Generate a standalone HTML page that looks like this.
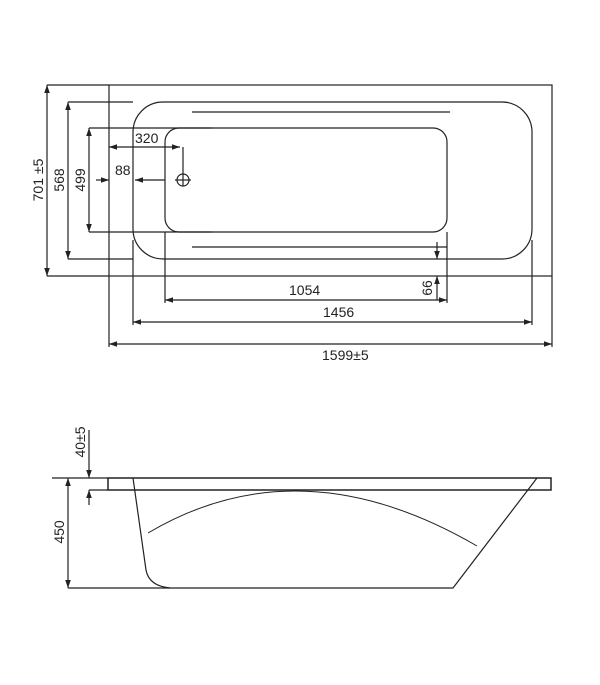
<!DOCTYPE html>
<html><head><meta charset="utf-8"><style>
html,body{margin:0;padding:0;background:#fff}
svg{display:block}
text{font-family:"Liberation Sans",sans-serif;font-size:14px;fill:#222}
</style></head><body>
<svg width="600" height="685" viewBox="0 0 600 685" xmlns="http://www.w3.org/2000/svg">
<defs>
<marker id="a" viewBox="0 0 10 10" refX="10" refY="5" markerWidth="8" markerHeight="8" orient="auto-start-reverse" markerUnits="userSpaceOnUse"><path d="M0,1.5 L10,5 L0,8.5 Z" fill="#222"/></marker>
</defs>
<g stroke="#222" stroke-width="1.2" fill="none">
<rect x="109" y="85" width="443" height="191"/>
<line x1="47" y1="85" x2="109" y2="85"/>
<line x1="47" y1="276" x2="109" y2="276"/>
<rect x="133" y="102" width="399" height="157" rx="30"/>
<line x1="68" y1="102" x2="133" y2="102"/>
<line x1="68" y1="259" x2="133" y2="259"/>
<rect x="165" y="128" width="282" height="104" rx="14"/>
<line x1="89" y1="128" x2="212" y2="128"/>
<line x1="89" y1="232" x2="212" y2="232"/>
<line x1="192" y1="112" x2="450" y2="112"/>
<line x1="192" y1="247" x2="447" y2="247"/>
<line x1="47" y1="85" x2="47" y2="276" marker-start="url(#a)" marker-end="url(#a)"/>
<line x1="68" y1="102" x2="68" y2="259" marker-start="url(#a)" marker-end="url(#a)"/>
<line x1="89" y1="128" x2="89" y2="232" marker-start="url(#a)" marker-end="url(#a)"/>
<line x1="109" y1="147" x2="180" y2="147" marker-start="url(#a)" marker-end="url(#a)"/>
<line x1="183" y1="147" x2="183" y2="186"/>
<circle cx="183" cy="180" r="6"/>
<line x1="175" y1="180" x2="191" y2="180"/>
<line x1="96" y1="180" x2="109" y2="180" marker-end="url(#a)"/>
<line x1="165" y1="180" x2="135" y2="180" marker-end="url(#a)"/>
<line x1="437" y1="242" x2="437" y2="259" marker-end="url(#a)"/>
<line x1="437" y1="300" x2="437" y2="276" marker-end="url(#a)"/>
<line x1="165" y1="232" x2="165" y2="303"/>
<line x1="447" y1="232" x2="447" y2="303"/>
<line x1="133" y1="240" x2="133" y2="325"/>
<line x1="532" y1="240" x2="532" y2="325"/>
<line x1="109" y1="276" x2="109" y2="347"/>
<line x1="552" y1="276" x2="552" y2="347"/>
<line x1="165" y1="300" x2="447" y2="300" marker-start="url(#a)" marker-end="url(#a)"/>
<line x1="133" y1="322" x2="532" y2="322" marker-start="url(#a)" marker-end="url(#a)"/>
<line x1="109" y1="344" x2="552" y2="344" marker-start="url(#a)" marker-end="url(#a)"/>
<rect x="108" y="478" width="443" height="12" stroke-width="1.5"/>
<line x1="52" y1="478" x2="108" y2="478"/>
<line x1="89" y1="490" x2="108" y2="490"/>
<line x1="89" y1="430" x2="89" y2="478" marker-end="url(#a)"/>
<line x1="89" y1="505" x2="89" y2="490" marker-end="url(#a)"/>
<line x1="68" y1="478" x2="68" y2="588" marker-start="url(#a)" marker-end="url(#a)"/>
<line x1="68" y1="588" x2="170" y2="588"/>
<path d="M133,478 L146,570 Q149,586 170,588 L453,588 L537,478"/>
<path d="M148,533 Q300,443 477,546" stroke-width="1"/>
</g>
<text x="135" y="143">320</text>
<text x="115" y="175">88</text>
<text x="289" y="295">1054</text>
<text x="323" y="317">1456</text>
<text x="322" y="360">1599±5</text>
<text transform="translate(43,180) rotate(-90)" text-anchor="middle">701 ±5</text>
<text transform="translate(64,180) rotate(-90)" text-anchor="middle">568</text>
<text transform="translate(85,180) rotate(-90)" text-anchor="middle">499</text>
<text transform="translate(432,288) rotate(-90)" text-anchor="middle">66</text>
<text transform="translate(85,442) rotate(-90)" text-anchor="middle">40±5</text>
<text transform="translate(64,532) rotate(-90)" text-anchor="middle">450</text>
</svg>
</body></html>
